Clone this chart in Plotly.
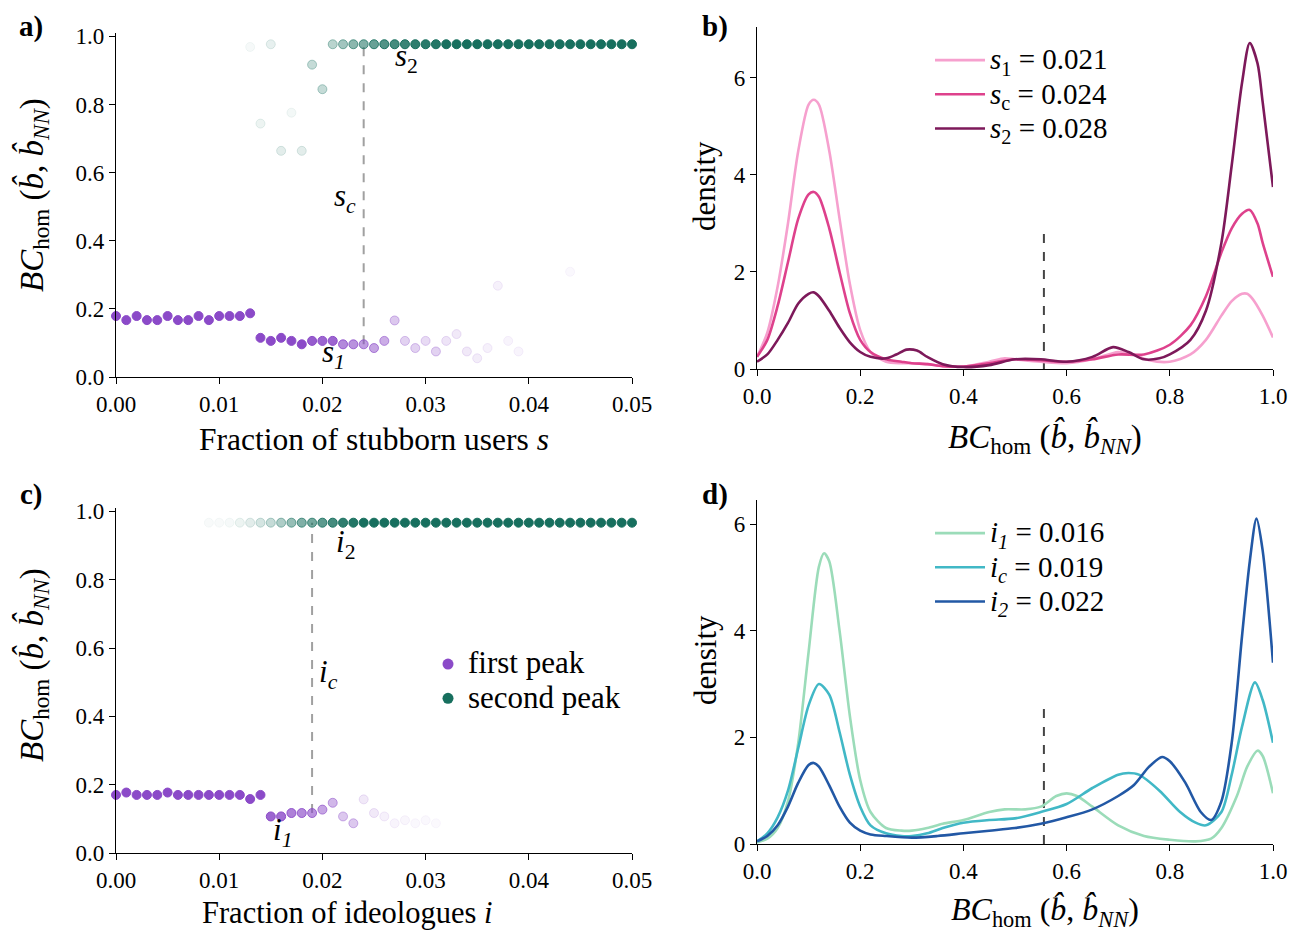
import plotly.graph_objects as go

# page body adds an 8px margin; figure sized to fit the 1304x940 window
OFF = 8
W, H = 1304 - 2 * OFF, 940 - 2 * OFF
FONT = "Liberation Serif"

# ---------------- Panel a data (stubborn users) ----------------
a_first_s = [0.000, 0.001, 0.002, 0.003, 0.004, 0.005, 0.006, 0.007, 0.008, 0.009,
             0.010, 0.011, 0.012, 0.013, 0.014, 0.015, 0.016, 0.017, 0.018, 0.019,
             0.020, 0.021, 0.022, 0.023, 0.024, 0.025, 0.026, 0.027, 0.028, 0.029,
             0.030, 0.031, 0.032, 0.033, 0.034, 0.035, 0.036, 0.037, 0.038, 0.039, 0.044]
a_first_bc = [0.179, 0.167, 0.179, 0.167, 0.167, 0.179, 0.167, 0.167, 0.179, 0.167,
              0.179, 0.179, 0.179, 0.187, 0.115, 0.106, 0.115, 0.106, 0.096, 0.106,
              0.106, 0.106, 0.096, 0.096, 0.096, 0.085, 0.106, 0.166, 0.106, 0.085,
              0.106, 0.075, 0.106, 0.126, 0.075, 0.055, 0.085, 0.268, 0.106, 0.075, 0.309]
a_first_weight = [1, 1, 1, 1, 1, 1, 1, 1, 1, 1,
                  1, 1, 1, 1, 1, 1, 1, 1, 1, 0.9,
                  0.85, 0.85, 0.65, 0.6, 0.55, 0.5, 0.45, 0.3, 0.25, 0.25,
                  0.2, 0.25, 0.15, 0.12, 0.12, 0.1, 0.08, 0.08, 0.06, 0.06, 0.04]

a_second_s = [0.013, 0.014, 0.015, 0.016, 0.017, 0.018, 0.019, 0.020, 0.021, 0.022,
              0.023, 0.024, 0.025, 0.026, 0.027, 0.028, 0.029, 0.030, 0.031, 0.032,
              0.033, 0.034, 0.035, 0.036, 0.037, 0.038, 0.039, 0.040, 0.041, 0.042,
              0.043, 0.044, 0.045, 0.046, 0.047, 0.048, 0.049, 0.050]
a_second_bc = [0.969, 0.744, 0.977, 0.664, 0.776, 0.664, 0.917, 0.845, 0.977, 0.977,
               0.977, 0.977, 0.977, 0.977, 0.977, 0.977, 0.977, 0.977, 0.977, 0.977,
               0.977, 0.977, 0.977, 0.977, 0.977, 0.977, 0.977, 0.977, 0.977, 0.977,
               0.977, 0.977, 0.977, 0.977, 0.977, 0.977, 0.977, 0.977]
a_second_weight = [0.04, 0.08, 0.1, 0.12, 0.05, 0.12, 0.25, 0.25, 0.3, 0.4,
                   0.5, 0.55, 0.65, 0.75, 0.8, 0.85, 0.9, 0.92, 0.95, 1,
                   1, 1, 1, 1, 1, 1, 1, 1, 1, 1,
                   1, 1, 1, 1, 1, 1, 1, 1]

s_c = 0.024
s_c_bc = [0.096, 0.977]

# ---------------- Panel c data (ideologues) ----------------
c_first_i = [0.000, 0.001, 0.002, 0.003, 0.004, 0.005, 0.006, 0.007, 0.008, 0.009,
             0.010, 0.011, 0.012, 0.013, 0.014, 0.015, 0.016, 0.017, 0.018, 0.019,
             0.020, 0.021, 0.022, 0.023, 0.024, 0.025, 0.026, 0.027, 0.028, 0.029,
             0.030, 0.031]
c_first_bc = [0.170, 0.177, 0.170, 0.170, 0.170, 0.177, 0.170, 0.170, 0.170, 0.170,
              0.170, 0.170, 0.170, 0.158, 0.170, 0.107, 0.107, 0.117, 0.117, 0.117,
              0.127, 0.147, 0.107, 0.087, 0.157, 0.117, 0.107, 0.087, 0.096, 0.087,
              0.096, 0.087]
c_first_weight = [1, 1, 1, 1, 1, 1, 1, 1, 1, 1,
                  1, 1, 1, 1, 1, 0.85, 0.8, 0.7, 0.65, 0.6,
                  0.5, 0.4, 0.3, 0.3, 0.12, 0.12, 0.08, 0.06, 0.05, 0.04,
                  0.04, 0.03]

c_second_i = [0.009, 0.010, 0.011, 0.012, 0.013, 0.014, 0.015, 0.016, 0.017, 0.018,
              0.019, 0.020, 0.021, 0.022, 0.023, 0.024, 0.025, 0.026, 0.027, 0.028,
              0.029, 0.030, 0.031, 0.032, 0.033, 0.034, 0.035, 0.036, 0.037, 0.038,
              0.039, 0.040, 0.041, 0.042, 0.043, 0.044, 0.045, 0.046, 0.047, 0.048,
              0.049, 0.050]
c_second_bc = [0.967] * 42
c_second_weight = [0.03, 0.03, 0.04, 0.08, 0.12, 0.18, 0.25, 0.35, 0.45, 0.55,
                   0.6, 0.7, 0.8, 0.9, 0.95, 1, 1, 1, 1, 1,
                   1, 1, 1, 1, 1, 1, 1, 1, 1, 1,
                   1, 1, 1, 1, 1, 1, 1, 1, 1, 1,
                   1, 1]

i_c = 0.019
i_c_bc = [0.117, 0.967]

# ---------------- Panel b densities ----------------
b_s1_x = [0, 0.02, 0.04, 0.06, 0.08, 0.10, 0.11, 0.12, 0.14, 0.16, 0.18, 0.20, 0.22, 0.25,
          0.28, 0.30, 0.33, 0.36, 0.40, 0.45, 0.48, 0.50, 0.55, 0.60, 0.65, 0.70, 0.73, 0.76,
          0.80, 0.84, 0.87, 0.90, 0.92, 0.94, 0.95, 0.96, 0.98, 1.0]
b_s1_y = [0.25, 0.75, 1.7, 3.0, 4.5, 5.45, 5.55, 5.45, 4.5, 3.1, 1.75, 0.8, 0.35, 0.15,
          0.12, 0.12, 0.1, 0.06, 0.05, 0.15, 0.22, 0.2, 0.15, 0.12, 0.2, 0.35, 0.3, 0.18,
          0.15, 0.3, 0.6, 1.1, 1.4, 1.55, 1.55, 1.45, 1.1, 0.65]

b_sc_x = [0, 0.02, 0.04, 0.06, 0.08, 0.10, 0.11, 0.12, 0.14, 0.16, 0.18, 0.20, 0.22, 0.25,
          0.28, 0.30, 0.33, 0.36, 0.40, 0.45, 0.50, 0.55, 0.60, 0.65, 0.70, 0.75, 0.80,
          0.84, 0.87, 0.90, 0.92, 0.94, 0.955, 0.97, 0.98, 1.0]
b_sc_y = [0.25, 0.6, 1.3, 2.2, 3.1, 3.6, 3.65, 3.55, 2.9, 2.0, 1.15, 0.6, 0.35, 0.2,
          0.15, 0.12, 0.1, 0.06, 0.05, 0.12, 0.2, 0.18, 0.15, 0.2, 0.3, 0.3, 0.5,
          0.9, 1.5, 2.4, 2.9, 3.2, 3.28, 3.0, 2.6, 1.9]

b_s2_x = [0, 0.02, 0.04, 0.06, 0.08, 0.10, 0.11, 0.12, 0.14, 0.16, 0.18, 0.20, 0.22, 0.25,
          0.27, 0.29, 0.31, 0.33, 0.36, 0.40, 0.45, 0.50, 0.55, 0.60, 0.65, 0.69, 0.72, 0.75,
          0.78, 0.80, 0.84, 0.87, 0.90, 0.92, 0.94, 0.955, 0.97, 0.98, 1.0]
b_s2_y = [0.15, 0.3, 0.6, 0.95, 1.35, 1.55, 1.58, 1.5, 1.2, 0.85, 0.55, 0.35, 0.25, 0.22,
          0.3, 0.4, 0.38, 0.25, 0.1, 0.04, 0.08, 0.2, 0.2, 0.15, 0.25, 0.45, 0.35, 0.2,
          0.22, 0.3, 0.6, 1.2, 2.6, 4.2, 5.9, 6.72, 6.3, 5.5, 3.75]

b_threshold = 0.556
b_threshold_h = 2.82

# ---------------- Panel d densities ----------------
d_i1_x = [0, 0.02, 0.04, 0.06, 0.08, 0.10, 0.12, 0.13, 0.14, 0.16, 0.18, 0.20, 0.22, 0.25,
          0.28, 0.30, 0.33, 0.36, 0.40, 0.45, 0.48, 0.52, 0.55, 0.58, 0.60, 0.62, 0.65, 0.70,
          0.75, 0.80, 0.85, 0.88, 0.90, 0.93, 0.95, 0.97, 0.98, 1.0]
d_i1_y = [0.03, 0.1, 0.3, 0.8, 1.9, 3.6, 5.2, 5.45, 5.3, 4.0, 2.4, 1.2, 0.6, 0.3,
          0.25, 0.25, 0.3, 0.38, 0.45, 0.6, 0.65, 0.65, 0.7, 0.9, 0.95, 0.9, 0.7, 0.35,
          0.15, 0.08, 0.05, 0.1, 0.3, 0.9, 1.45, 1.75, 1.65, 0.95]

d_ic_x = [0, 0.02, 0.04, 0.06, 0.08, 0.10, 0.12, 0.14, 0.16, 0.18, 0.20, 0.22, 0.25, 0.28,
          0.30, 0.33, 0.36, 0.40, 0.45, 0.50, 0.55, 0.60, 0.65, 0.70, 0.72, 0.74, 0.78, 0.82,
          0.85, 0.87, 0.90, 0.92, 0.94, 0.965, 0.98, 1.0]
d_ic_y = [0.05, 0.2, 0.5, 1.0, 1.8, 2.6, 3.0, 2.8, 2.1, 1.3, 0.7, 0.35, 0.2, 0.15,
          0.15, 0.2, 0.3, 0.4, 0.45, 0.48, 0.6, 0.75, 1.05, 1.3, 1.33, 1.3, 1.0, 0.6,
          0.4, 0.35, 0.6, 1.3, 2.2, 3.03, 2.7, 1.9]

d_i2_x = [0, 0.02, 0.04, 0.06, 0.08, 0.10, 0.11, 0.12, 0.14, 0.16, 0.18, 0.20, 0.22, 0.25,
          0.30, 0.35, 0.40, 0.45, 0.50, 0.55, 0.60, 0.65, 0.70, 0.73, 0.76, 0.785, 0.80, 0.83,
          0.86, 0.88, 0.90, 0.92, 0.94, 0.955, 0.968, 0.98, 1.0]
d_i2_y = [0.05, 0.15, 0.35, 0.7, 1.15, 1.48, 1.52, 1.45, 1.1, 0.7, 0.4, 0.25, 0.18, 0.15,
          0.12, 0.15, 0.2, 0.25, 0.3, 0.38, 0.5, 0.65, 0.9, 1.1, 1.45, 1.63, 1.55, 1.15,
          0.6, 0.45, 0.8, 1.9, 3.9, 5.3, 6.1, 5.5, 3.4]

d_threshold = 0.556
d_threshold_h = 2.57

# ---------------- styling ----------------
PURPLE = (139, 74, 200)
GREEN = (23, 111, 94)
S1_COL, SC_COL, S2_COL = "rgb(246,160,206)", "rgb(222,65,140)", "rgb(125,25,90)"
I1_COL, IC_COL, I2_COL = "rgb(155,220,185)", "rgb(65,184,198)", "rgb(34,88,165)"


def rgba(c, a):
    return f"rgba({c[0]},{c[1]},{c[2]},{a})"


def px(x):
    return (x - OFF) / W


def py(y):
    return 1 - (y - OFF) / H


def big(t, size):
    return f"<span style='font-size:{size}px'>{t}</span>"


fig = go.Figure()


def dots(x, y, w, col, xa, ya):
    fig.add_trace(go.Scatter(
        x=x, y=y, mode="markers", xaxis=xa, yaxis=ya, showlegend=False,
        cliponaxis=False,
        marker=dict(size=9, color=[rgba(col, a) for a in w],
                    line=dict(width=1, color=[rgba(col, min(1, a * 1.3)) for a in w]))))


# panel a
fig.add_trace(go.Scatter(x=[s_c, s_c], y=s_c_bc, mode="lines", xaxis="x", yaxis="y",
                         showlegend=False, line=dict(color="rgb(160,160,160)", width=2, dash="dash")))
dots(a_first_s, a_first_bc, a_first_weight, PURPLE, "x", "y")
dots(a_second_s, a_second_bc, a_second_weight, GREEN, "x", "y")

# panel c
fig.add_trace(go.Scatter(x=[i_c, i_c], y=i_c_bc, mode="lines", xaxis="x3", yaxis="y3",
                         showlegend=False, line=dict(color="rgb(160,160,160)", width=2, dash="dash")))
dots(c_first_i, c_first_bc, c_first_weight, PURPLE, "x3", "y3")
dots(c_second_i, c_second_bc, c_second_weight, GREEN, "x3", "y3")
fig.add_trace(go.Scatter(x=[None], y=[None], mode="markers", xaxis="x3", yaxis="y3",
                         name=big("first peak", 31), legend="legend2",
                         marker=dict(size=11, color=rgba(PURPLE, 1))))
fig.add_trace(go.Scatter(x=[None], y=[None], mode="markers", xaxis="x3", yaxis="y3",
                         name=big("second peak", 31), legend="legend2",
                         marker=dict(size=11, color=rgba(GREEN, 1))))

# panel b
fig.add_trace(go.Scatter(x=[b_threshold, b_threshold], y=[0, b_threshold_h], mode="lines",
                         xaxis="x2", yaxis="y2", showlegend=False,
                         line=dict(color="rgb(68,68,68)", width=2, dash="dash")))
for xs, ys, col, nm in [(b_s1_x, b_s1_y, S1_COL, "<i>s</i><sub>1</sub> = 0.021"),
                        (b_sc_x, b_sc_y, SC_COL, "<i>s</i><sub>c</sub> = 0.024"),
                        (b_s2_x, b_s2_y, S2_COL, "<i>s</i><sub>2</sub> = 0.028")]:
    fig.add_trace(go.Scatter(x=xs, y=ys, mode="lines", xaxis="x2", yaxis="y2", name=big(nm, 29),
                             legend="legend", line=dict(color=col, width=2.6, shape="spline",
                                                        smoothing=0.8)))

# panel d
fig.add_trace(go.Scatter(x=[d_threshold, d_threshold], y=[0, d_threshold_h], mode="lines",
                         xaxis="x4", yaxis="y4", showlegend=False,
                         line=dict(color="rgb(68,68,68)", width=2, dash="dash")))
for xs, ys, col, nm in [(d_i1_x, d_i1_y, I1_COL, "<i>i<sub>1</sub></i> = 0.016"),
                        (d_ic_x, d_ic_y, IC_COL, "<i>i<sub>c</sub></i> = 0.019"),
                        (d_i2_x, d_i2_y, I2_COL, "<i>i<sub>2</sub></i> = 0.022")]:
    fig.add_trace(go.Scatter(x=xs, y=ys, mode="lines", xaxis="x4", yaxis="y4", name=big(nm, 29),
                             legend="legend3", line=dict(color=col, width=2.6, shape="spline",
                                                         smoothing=0.8)))

axis_common = dict(showline=True, linecolor="black", linewidth=1.3, ticks="outside",
                   ticklen=6, tickwidth=1.3, tickcolor="black", showgrid=False,
                   zeroline=False, mirror=False, automargin=False,
                   tickfont=dict(family=FONT, size=23, color="black"))

leg_common = dict(xanchor="left", yanchor="top", bgcolor="rgba(0,0,0,0)",
                  font=dict(family=FONT, size=24), tracegroupgap=0)

fig.update_layout(
    width=W, height=H, margin=dict(l=0, r=0, t=0, b=0, autoexpand=False),
    paper_bgcolor="white", plot_bgcolor="white",
    font=dict(family=FONT, color="black"),
    xaxis=dict(domain=[px(116), px(632)], range=[0, 0.05], dtick=0.01, tickformat=".2f",
               anchor="y", **axis_common),
    yaxis=dict(domain=[py(377), py(33)], range=[0, 1.01], tickvals=[0, 0.2, 0.4, 0.6, 0.8, 1.0],
               tickformat=".1f", anchor="x", **axis_common),
    xaxis2=dict(domain=[px(757), px(1273)], range=[0, 1.0], dtick=0.2, tickformat=".1f",
                anchor="y2", **axis_common),
    yaxis2=dict(domain=[py(369), py(27)], range=[0, 7.05], tickvals=[0, 2, 4, 6],
                anchor="x2", **axis_common),
    xaxis3=dict(domain=[px(116), px(632)], range=[0, 0.05], dtick=0.01, tickformat=".2f",
                anchor="y3", **axis_common),
    yaxis3=dict(domain=[py(853), py(508)], range=[0, 1.01], tickvals=[0, 0.2, 0.4, 0.6, 0.8, 1.0],
                tickformat=".1f", anchor="x3", **axis_common),
    xaxis4=dict(domain=[px(757), px(1273)], range=[0, 1.0], dtick=0.2, tickformat=".1f",
                anchor="y4", **axis_common),
    yaxis4=dict(domain=[py(844), py(500)], range=[0, 6.45], tickvals=[0, 2, 4, 6],
                anchor="x4", **axis_common),
    legend=dict(x=px(930), y=py(38), itemwidth=50, **leg_common),
    legend2=dict(x=px(428), y=py(642), **leg_common),
    legend3=dict(x=px(930), y=py(511), itemwidth=50, **leg_common),
)

ytitle = "<i>BC</i><sub>hom</sub> (<i>b̂</i>, <i>b̂</i><sub><i>NN</i></sub>)"
annots = [
    # panel letters
    dict(text="<b>a)</b>", x=px(31), y=py(27), size=29),
    dict(text="<b>b)</b>", x=px(715), y=py(27), size=29),
    dict(text="<b>c)</b>", x=px(31), y=py(494), size=29),
    dict(text="<b>d)</b>", x=px(715), y=py(494), size=29),
    # axis titles
    dict(text="Fraction of stubborn users <i>s</i>", x=px(374), y=py(440), size=31.5),
    dict(text="Fraction of ideologues <i>i</i>", x=px(347), y=py(913), size=30.5),
    dict(text=ytitle, x=px(1045), y=py(438), size=33),
    dict(text=ytitle, x=px(1045), y=py(911), size=32),
    dict(text=ytitle, x=px(33), y=py(195), size=33, angle=-90),
    dict(text=ytitle, x=px(33), y=py(665), size=33, angle=-90),
    dict(text="density", x=px(705), y=py(186), size=31, angle=-90),
    dict(text="density", x=px(705), y=py(660), size=31, angle=-90),
    # critical point labels
    dict(text="<i>s</i><sub>2</sub>", x=px(406), y=py(58), size=31),
    dict(text="<i>s<sub>c</sub></i>", x=px(345), y=py(198), size=31),
    dict(text="<i>s<sub>1</sub></i>", x=px(333), y=py(354), size=31),
    dict(text="<i>i</i><sub>2</sub>", x=px(345), y=py(544), size=31),
    dict(text="<i>i<sub>c</sub></i>", x=px(328), y=py(674), size=31),
    dict(text="<i>i<sub>1</sub></i>", x=px(282), y=py(832), size=31),
]
for a in annots:
    fig.add_annotation(text=a["text"], x=a["x"], y=a["y"], xref="paper", yref="paper",
                       xanchor="center", yanchor="middle", showarrow=False,
                       textangle=a.get("angle", 0),
                       font=dict(family=FONT, size=a["size"], color="black"))

fig.write_html("out.html")
